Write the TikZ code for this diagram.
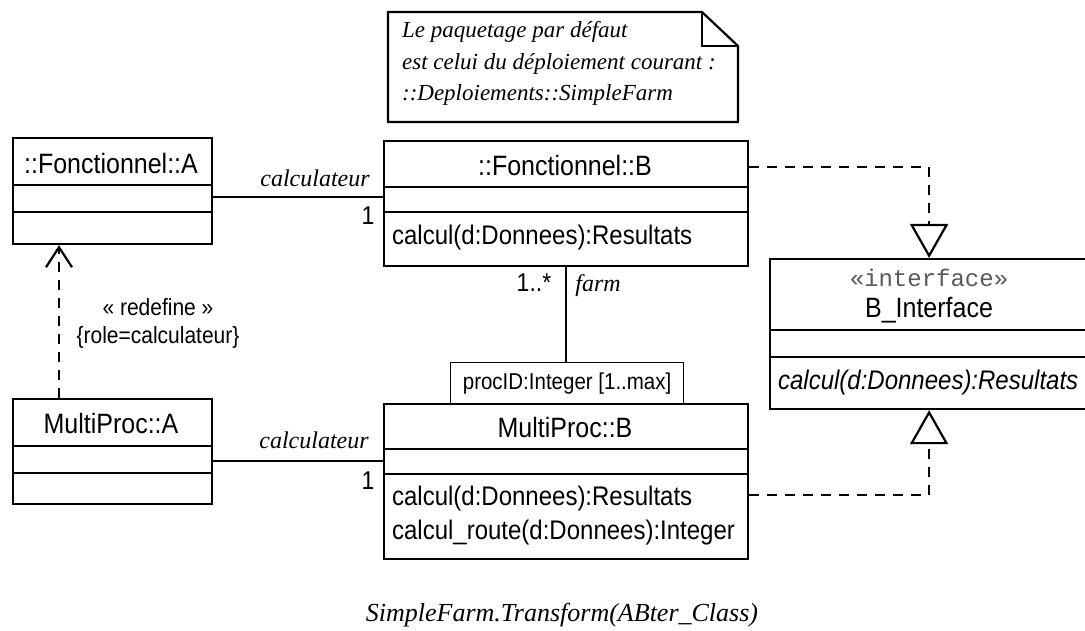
\documentclass[tikz,border=0pt]{standalone}
\usepackage{fontspec}
\setmainfont{Liberation Serif}
\setsansfont{Liberation Sans}
\setmonofont{Liberation Mono}
\usetikzlibrary{arrows.meta,calc}
\newcommand\tallsf[1]{\scalebox{1}[1.12]{#1}}
\begin{document}
\begin{tikzpicture}[x=1pt,y=-1pt,
  line width=2.2pt,
  box/.style={draw, rectangle, inner sep=0pt, anchor=north west},
  clsname/.style={font=\sffamily\fontsize{25}{29}\selectfont, inner sep=0pt},
  opname/.style={font=\sffamily\fontsize{24}{28}\selectfont, inner sep=0pt, anchor=west},
  rolename/.style={font=\itshape\fontsize{24}{28}\selectfont, inner sep=0pt, anchor=base},
  multname/.style={font=\sffamily\fontsize{23}{27}\selectfont, inner sep=0pt, anchor=base},
  dashline/.style={dash pattern=on 10pt off 8pt},
  realize/.style={dashline, -{Triangle[open,length=34pt,width=38pt,line width=2.2pt]}},
  depend/.style={dashline, -{Straight Barb[length=20pt,width=26pt,line width=2.2pt]}},
]
\useasboundingbox (0,0) rectangle (1085,631);
\fill[white] (0,0) rectangle (1085,631);
\clip (0,0) rectangle (1085,631);

% ---- note ----
\draw (388,12) -- (702,12) -- (738,46) -- (738,122) -- (388,122) -- cycle;
\draw (702,12) -- (702,46) -- (738,46);
\node[font=\itshape\fontsize{23}{31.5}\selectfont, align=left, inner sep=0pt, anchor=base west] (note) at (401,101)
  {Le paquetage par défaut\\est celui du déploiement courant :\\::Deploiements::SimpleFarm};

% ---- ::Fonctionnel::A ----
\node[box, minimum width=199pt, minimum height=106pt] (FA) at (12,137) {};
\draw (12,185) -- (211,185);
\draw (12,212) -- (211,212);
\node[clsname] (FAn) at (111,163) {\tallsf{::Fonctionnel::A}};

% ---- ::Fonctionnel::B ----
\node[box, minimum width=364pt, minimum height=125pt] (FB) at (383,140) {};
\draw (383,187) -- (747,187);
\draw (383,212) -- (747,212);
\node[clsname] (FBn) at (565,165) {\tallsf{::Fonctionnel::B}};
\node[opname] (FBo) at (391,238) {\tallsf{calcul(d:Donnees):Resultats}};

% ---- B_Interface ----
\node[box, minimum width=318pt, minimum height=150pt] (BI) at (769,258) {};
\draw (769,330) -- (1090,330);
\draw (769,357) -- (1090,357);
\node[font=\ttfamily\fontsize{24}{28}\selectfont, text=black!65, inner sep=0pt] (BIs) at (929,278) {«interface»};
\node[clsname] (BIn) at (929,310) {\tallsf{B\_Interface}};
\node[opname, font=\sffamily\itshape\fontsize{24}{28}\selectfont] (BIo) at (777,383) {\tallsf{calcul(d:Donnees):Resultats}};

% ---- MultiProc::A ----
\node[box, minimum width=199pt, minimum height=105pt] (MA) at (12,398) {};
\draw (12,446) -- (211,446);
\draw (12,473) -- (211,473);
\node[clsname] (MAn) at (111,423) {\tallsf{MultiProc::A}};

% ---- MultiProc::B ----
\node[box, minimum width=364pt, minimum height=155pt] (MB) at (383,403) {};
\draw (383,449) -- (747,449);
\draw (383,474) -- (747,474);
\node[clsname] (MBn) at (565,427) {\tallsf{MultiProc::B}};
\node[opname] (MBo1) at (391,499) {\tallsf{calcul(d:Donnees):Resultats}};
\node[opname] (MBo2) at (391,533) {\tallsf{calcul\_route(d:Donnees):Integer}};

% ---- qualifier ----
\node[draw, line width=1.2pt, rectangle, inner sep=0pt, minimum width=233pt, minimum height=41pt,
      anchor=north west, font=\sffamily\fontsize{20.5}{24}\selectfont] (PID) at (450,362) {\tallsf{procID:Integer [1..max]}};

% ---- associations ----
\draw ($(FA.north east)+(0,60)$) -- ($(FB.north west)+(0,57)$);
\node[rolename] (r1) at (315,187) {calculateur};
\node[multname] (m1) at (368,225) {\tallsf{1}};

\draw ($(MA.north east)+(0,63)$) -- ($(MB.north west)+(0,58)$);
\node[rolename] (r2) at (314,448) {calculateur};
\node[multname] (m2) at (368,489) {\tallsf{1}};

\draw (FB.south) -- (PID.north -| FB.south);
\node[multname] (m3) at (534,291) {\tallsf{1..*}};
\node[rolename] (r3) at (598,291) {farm};

% ---- redefine dependency ----
\draw[depend] ($(MA.north west)+(47,0)$) -- ($(FA.south west)+(47,0)$);
\node[font=\sffamily\fontsize{21}{25}\selectfont, inner sep=0pt] (rd1) at (158,307) {\tallsf{« redefine »}};
\node[font=\sffamily\fontsize{21}{25}\selectfont, inner sep=0pt] (rd2) at (158,337) {\tallsf{\{role=calculateur\}}};

% ---- realizations ----
\draw[realize] ($(FB.north east)+(0,27)$) -| (BI.north);
\draw[realize] ($(MB.north east)+(0,92)$) -| (BI.south);

% ---- caption ----
\node[font=\itshape\fontsize{26}{30}\selectfont, inner sep=0pt, anchor=base] (cap) at (562,621) {SimpleFarm.Transform(ABter\_Class)};
\end{tikzpicture}
\end{document}
